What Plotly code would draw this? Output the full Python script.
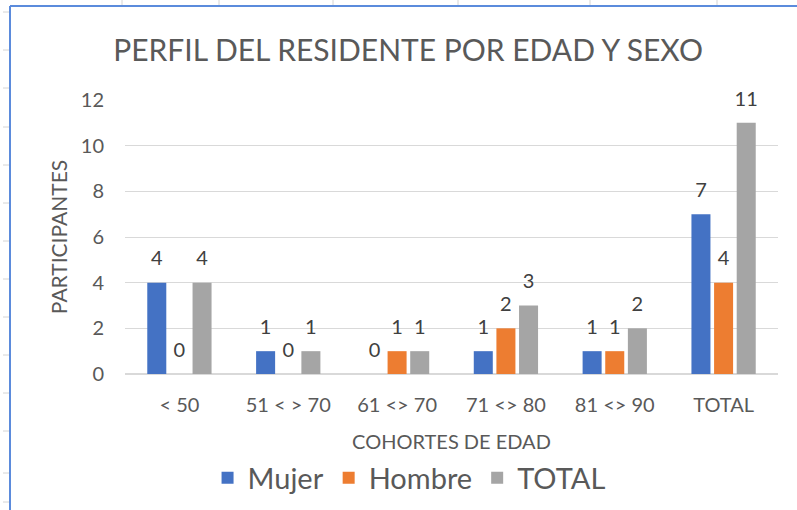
import plotly.graph_objects as go

categories = ["< 50", "51 < > 70", "61 <> 70", "71 <> 80", "81 <> 90", "TOTAL"]
mujer = [4, 1, 0, 1, 1, 7]
hombre = [0, 0, 1, 2, 1, 4]
total = [4, 1, 1, 3, 2, 11]
y_ticks = [0, 2, 4, 6, 8, 10, 12]

W, H = 797, 510
L, R, T, B = 125, 19, 100, 136
FONT = "Lato"
TXT = "#595959"

fig = go.Figure()
series = [("Mujer", mujer, "#4472C4"), ("Hombre", hombre, "#ED7D31"), ("TOTAL", total, "#A5A5A5")]
for i, (name, vals, col) in enumerate(series):
    fig.add_trace(go.Bar(
        name=name, x=categories, y=vals, marker_color=col,
        marker_line_width=0, offsetgroup=str(i), hoverinfo="skip",
    ))
for i, (name, vals, col) in enumerate(series):
    fig.add_trace(go.Scatter(
        x=categories, y=vals, mode="markers+text", text=vals,
        textposition="top center", offsetgroup=str(i), showlegend=False,
        marker=dict(size=18, opacity=0), hoverinfo="skip", cliponaxis=False,
        textfont=dict(family=FONT, size=20, color="#404040"),
    ))

# spreadsheet background decorations (pixel -> paper coords)
def px(x):
    return (x - L) / (W - L - R)
def py(y):
    return (H - B - y) / (H - T - B)
shapes = []
for gx in [122, 219, 333, 458, 590, 717]:
    shapes.append(dict(type="line", xref="paper", yref="paper", x0=px(gx), x1=px(gx),
                       y0=py(0), y1=py(6), line=dict(color="#d4d4d4", width=1)))
for gy in [12, 50, 88, 127, 165, 203, 241, 279, 317, 355, 393, 431, 473, 502]:
    shapes.append(dict(type="line", xref="paper", yref="paper", x0=px(3), x1=px(9),
                       y0=py(gy), y1=py(gy), line=dict(color="#d4d4d4", width=1)))
shapes.append(dict(type="line", xref="paper", yref="paper", x0=px(10), x1=px(10),
                   y0=py(6), y1=py(H), line=dict(color="#5B8BDC", width=2)))
shapes.append(dict(type="line", xref="paper", yref="paper", x0=px(10), x1=px(W),
                   y0=py(6), y1=py(6), line=dict(color="#5B8BDC", width=2)))

fig.update_layout(
    width=W, height=H,
    margin=dict(l=L, r=R, t=T, b=B, autoexpand=False),
    paper_bgcolor="white", plot_bgcolor="white",
    barmode="group", bargap=0.376, bargroupgap=0.16,
    scattermode="group", scattergap=0.376,
    font=dict(family=FONT, color=TXT),
    title=dict(text="PERFIL DEL RESIDENTE POR EDAD Y SEXO", x=0.512, xanchor="center",
               y=1 - 50 / H, yanchor="middle",
               font=dict(family=FONT, size=30, color=TXT)),
    xaxis=dict(title=dict(text="COHORTES DE EDAD", font=dict(size=20, color=TXT), standoff=28),
               tickfont=dict(size=20, color=TXT), showline=True, linecolor="#d9d9d9",
               ticks="", showgrid=False, ticklabelstandoff=13, automargin=False),
    yaxis=dict(title=dict(text="PARTICIPANTES", font=dict(size=21, color=TXT), standoff=7),
               range=[0, 12], tickvals=y_ticks, tickfont=dict(size=20, color=TXT),
               showgrid=True, gridcolor="#d9d9d9", gridwidth=1, zeroline=True,
               zerolinecolor="#d9d9d9", ticks="", ticklabelstandoff=20, automargin=False),
    legend=dict(orientation="h", x=0.435, xanchor="center", y=1 - 478 / H, yanchor="middle",
                yref="container", font=dict(size=29, color=TXT),
                traceorder="normal"),
    shapes=shapes,
)

fig.write_html("out.html", config={"displayModeBar": False},
               post_script="document.body.style.margin='0';document.body.style.overflow='hidden';")
